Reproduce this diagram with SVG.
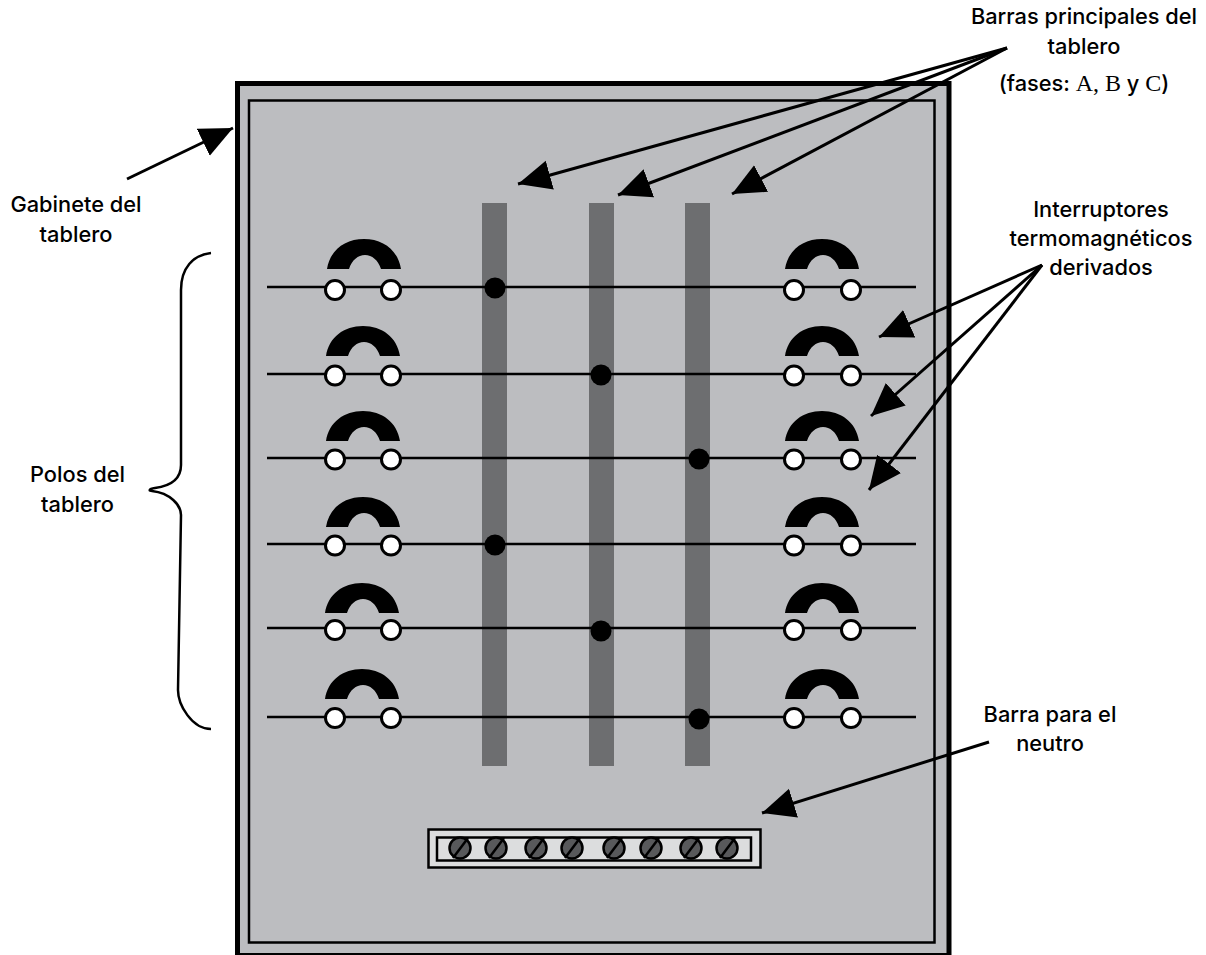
<svg xmlns="http://www.w3.org/2000/svg" width="1206" height="955" viewBox="0 0 1206 955">
<style>
text{font-family:Inter,"Liberation Sans",Arial,sans-serif;font-weight:500;font-size:21.800px;fill:#000;text-anchor:middle}
tspan.s{font-family:"Liberation Serif","Times New Roman",serif;font-weight:400;font-size:24px}
.bar{fill:#6d6e70}
.wire{stroke:#000;stroke-width:2.5;fill:none}
.term{fill:#fff;stroke:#000;stroke-width:3}
.dot{fill:#000}
.ldr{stroke:#000;stroke-width:3;fill:none;marker-end:url(#ah)}
.screw{fill:#58595b;stroke:#000;stroke-width:2.5}
.slot{stroke:#000;stroke-width:2.5}
</style>
<defs>
<marker id="ah" markerUnits="userSpaceOnUse" markerWidth="36" markerHeight="32" refX="33" refY="15" orient="auto"><path d="M0 0L33 15L0 30z" fill="#000"/></marker>
<path id="arc" d="M0 30C3 11 18 0 37 0C56 0 71 11 74 30L54 30C51 21 45 16 38 16C31 16 25 21 22 30Z" fill="#000"/>
</defs>
<g id="cabinet">
<rect x="237.500" y="83.500" width="711.500" height="872" fill="#bcbdc0" stroke="#000" stroke-width="5"/>
<rect x="249" y="100.500" width="685.500" height="842" fill="none" stroke="#000" stroke-width="2.500"/>
</g>
<g id="bars">
<rect class="bar" x="482" y="203" width="25" height="563"/>
<rect class="bar" x="589" y="203" width="25" height="563"/>
<rect class="bar" x="685" y="203" width="25" height="563"/>
</g>
<g id="poles">
<g id="pole1"><path class="wire" d="M267 287H916"/><use href="#arc" x="327" y="239"/><use href="#arc" x="785" y="239"/><circle class="term" cx="335" cy="290" r="9.500"/><circle class="term" cx="391" cy="290" r="9.500"/><circle class="term" cx="794" cy="290" r="9.500"/><circle class="term" cx="851" cy="290" r="9.500"/><circle class="dot" cx="495" cy="288" r="10.500"/></g>
<g id="pole2"><path class="wire" d="M267 374H916"/><use href="#arc" x="326" y="326"/><use href="#arc" x="785" y="326"/><circle class="term" cx="335" cy="375.500" r="9.500"/><circle class="term" cx="391" cy="375.500" r="9.500"/><circle class="term" cx="794" cy="375.500" r="9.500"/><circle class="term" cx="851" cy="375.500" r="9.500"/><circle class="dot" cx="601" cy="375" r="10.500"/></g>
<g id="pole3"><path class="wire" d="M267 458H916"/><use href="#arc" x="326" y="411"/><use href="#arc" x="785" y="411"/><circle class="term" cx="335" cy="459.500" r="9.500"/><circle class="term" cx="391" cy="459.500" r="9.500"/><circle class="term" cx="794" cy="459.500" r="9.500"/><circle class="term" cx="851" cy="459.500" r="9.500"/><circle class="dot" cx="699" cy="459" r="10.500"/></g>
<g id="pole4"><path class="wire" d="M267 544H916"/><use href="#arc" x="326" y="497"/><use href="#arc" x="785" y="497"/><circle class="term" cx="335" cy="545.500" r="9.500"/><circle class="term" cx="391" cy="545.500" r="9.500"/><circle class="term" cx="794" cy="545.500" r="9.500"/><circle class="term" cx="851" cy="545.500" r="9.500"/><circle class="dot" cx="495" cy="545" r="10.500"/></g>
<g id="pole5"><path class="wire" d="M267 628H916"/><use href="#arc" x="325" y="583"/><use href="#arc" x="785" y="583"/><circle class="term" cx="335" cy="630" r="9.500"/><circle class="term" cx="391" cy="630" r="9.500"/><circle class="term" cx="794" cy="630" r="9.500"/><circle class="term" cx="851" cy="630" r="9.500"/><circle class="dot" cx="601" cy="631" r="10.500"/></g>
<g id="pole6"><path class="wire" d="M267 717H916"/><use href="#arc" x="325" y="669"/><use href="#arc" x="785" y="669"/><circle class="term" cx="335" cy="718" r="9.500"/><circle class="term" cx="391" cy="718" r="9.500"/><circle class="term" cx="794" cy="718" r="9.500"/><circle class="term" cx="851" cy="718" r="9.500"/><circle class="dot" cx="699" cy="719" r="10.500"/></g>
</g>
<g id="neutral">
<rect x="428.500" y="829.500" width="332" height="38" fill="#dcddde" stroke="#000" stroke-width="2.500"/>
<rect x="437" y="837.500" width="314" height="23" fill="#dcddde" stroke="#000" stroke-width="2.500"/>
<g id="screws">
<circle class="screw" cx="460" cy="848" r="10.500"/><path class="slot" d="M453 858L468 838"/>
<circle class="screw" cx="496" cy="848" r="10.500"/><path class="slot" d="M489 858L504 838"/>
<circle class="screw" cx="536" cy="848" r="10.500"/><path class="slot" d="M529 858L544 838"/>
<circle class="screw" cx="572" cy="848" r="10.500"/><path class="slot" d="M565 858L580 838"/>
<circle class="screw" cx="614" cy="848" r="10.500"/><path class="slot" d="M607 858L622 838"/>
<circle class="screw" cx="651" cy="848" r="10.500"/><path class="slot" d="M644 858L659 838"/>
<circle class="screw" cx="691" cy="848" r="10.500"/><path class="slot" d="M684 858L699 838"/>
<circle class="screw" cx="727" cy="848" r="10.500"/><path class="slot" d="M720 858L735 838"/>
</g>
</g>
<g id="connectors">
<path class="ldr" d="M127 179L233 128"/>
<path class="ldr" d="M1007 48L518 184"/>
<path class="ldr" d="M1007 48L618 195"/>
<path class="ldr" d="M1007 48L732 194"/>
<path class="ldr" d="M1042 265L879 337"/>
<path class="ldr" d="M1042 265L871 416"/>
<path class="ldr" d="M1042 265L869 490"/>
<path class="ldr" d="M989 742L762 813"/>
</g>
<g id="brace"><path d="M211 253C193 255 181 268 181 290V465C181 480 170 486 155 488C148 489 149 491 152 491C170 493 181 505 181 515L178 690C178 705 192 729 211 729" fill="none" stroke="#000" stroke-width="2.500"/></g>
<g id="labels">
<text x="1084" y="24">Barras principales del</text>
<text x="1084" y="54">tablero</text>
<text x="1084" y="91">(fases: <tspan class="s">A, B</tspan> y <tspan class="s">C</tspan>)</text>
<text x="76" y="212">Gabinete del</text>
<text x="76" y="242">tablero</text>
<text x="1101" y="217">Interruptores</text>
<text x="1101" y="246">termomagnéticos</text>
<text x="1101" y="275">derivados</text>
<text x="77.500" y="482">Polos del</text>
<text x="77.500" y="512">tablero</text>
<text x="1050" y="722">Barra para el</text>
<text x="1050" y="751">neutro</text>
</g>
</svg>
